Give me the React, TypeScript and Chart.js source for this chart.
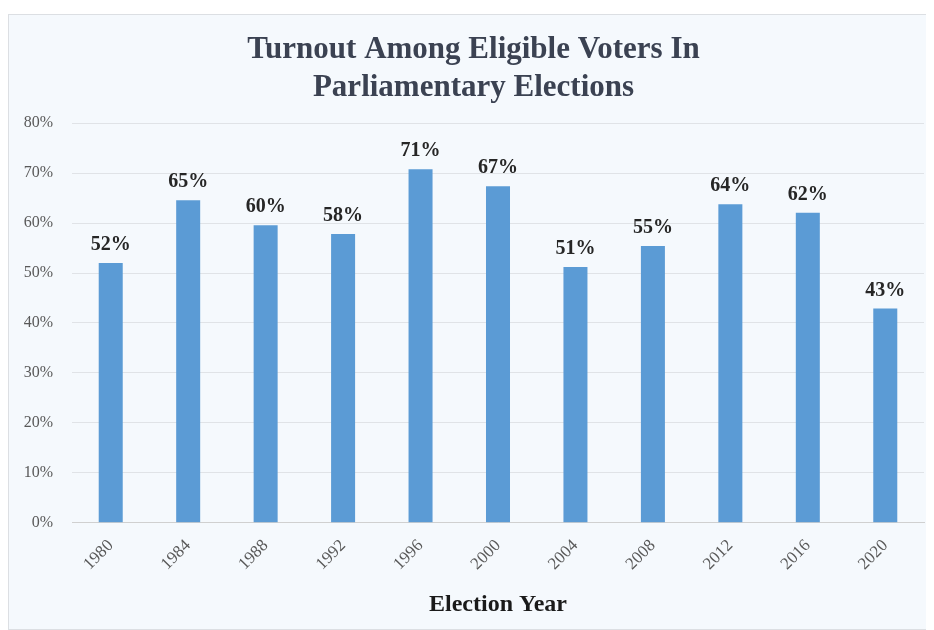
import React, { useEffect, useRef } from "react";
import { Chart, registerables } from "chart.js";

Chart.register(...registerables);

const years = ["1980", "1984", "1988", "1992", "1996", "2000", "2004", "2008", "2012", "2016", "2020"];
const turnout = [52.0, 64.6, 59.6, 57.8, 70.8, 67.4, 51.2, 55.4, 63.8, 62.1, 42.9];
const barLabels = ["52%", "65%", "60%", "58%", "71%", "67%", "51%", "55%", "64%", "62%", "43%"];
const titleLines = ["Turnout Among Eligible Voters In", "Parliamentary Elections"];
const xTitle = "Election Year";

const SERIF = "'Liberation Serif', 'Times New Roman', serif";

const valueLabelPlugin = {
  id: "valueLabels",
  afterDatasetsDraw(chart: any) {
    const ctx = chart.ctx;
    const meta = chart.getDatasetMeta(0);
    ctx.save();
    ctx.font = `bold 20px ${SERIF}`;
    ctx.fillStyle = "#262626";
    ctx.textAlign = "center";
    ctx.textBaseline = "middle";
    meta.data.forEach((bar: any, i: number) => {
      ctx.fillText(barLabels[i], bar.x, bar.y - 18);
    });
    ctx.restore();
  },
};

export default function App() {
  const ref = useRef<HTMLCanvasElement | null>(null);
  useEffect(() => {
    if (!ref.current) return;
    const chart = new Chart(ref.current, {
      type: "bar",
      data: {
        labels: years,
        datasets: [
          {
            data: turnout,
            backgroundColor: "#5b9bd5",
            barPercentage: 0.31,
            categoryPercentage: 1,
          },
        ],
      },
      options: {
        animation: false,
        responsive: false,
        maintainAspectRatio: false,
        layout: { padding: { left: 14, right: 9, top: 10, bottom: 10 } },
        plugins: {
          legend: { display: false },
          tooltip: { enabled: false },
          title: {
            display: true,
            text: titleLines,
            color: "#3b4252",
            font: { family: SERIF, size: 31, weight: "bold", lineHeight: 1.23 },
            padding: { top: 6, bottom: 16 },
          },
        },
        scales: {
          x: {
            grid: { display: false, drawTicks: false },
            border: { display: true, color: "#d0d0d0" },
            afterFit: (scale: any) => {
              scale.paddingLeft = 0;
              scale.paddingRight = 0;
            },
            ticks: {
              color: "#595959",
              font: { family: SERIF, size: 17 },
              minRotation: 45,
              maxRotation: 45,
              padding: 13,
            },
            title: {
              display: true,
              text: xTitle,
              color: "#1a1a1a",
              font: { family: SERIF, size: 24, weight: "bold" },
              padding: { top: 3, bottom: 0 },
            },
          },
          y: {
            min: 0,
            max: 80,
            grid: { color: "#e0e3e7", drawTicks: false },
            border: { display: false },
            afterFit: (scale: any) => {
              scale.width = 49;
            },
            ticks: {
              stepSize: 10,
              color: "#595959",
              font: { family: SERIF, size: 16 },
              padding: 19,
              callback: (v: any) => `${v}%`,
            },
          },
        },
      },
      plugins: [valueLabelPlugin],
    });
    return () => chart.destroy();
  }, []);

  return (
    <div
      style={{
        marginTop: 6,
        width: 926,
        height: 616,
        boxSizing: "border-box",
        background: "#f5f9fd",
        border: "1px solid #dcdfe3",
      }}
    >
      <canvas ref={ref} width={924} height={614} style={{ display: "block" }} />
    </div>
  );
}
